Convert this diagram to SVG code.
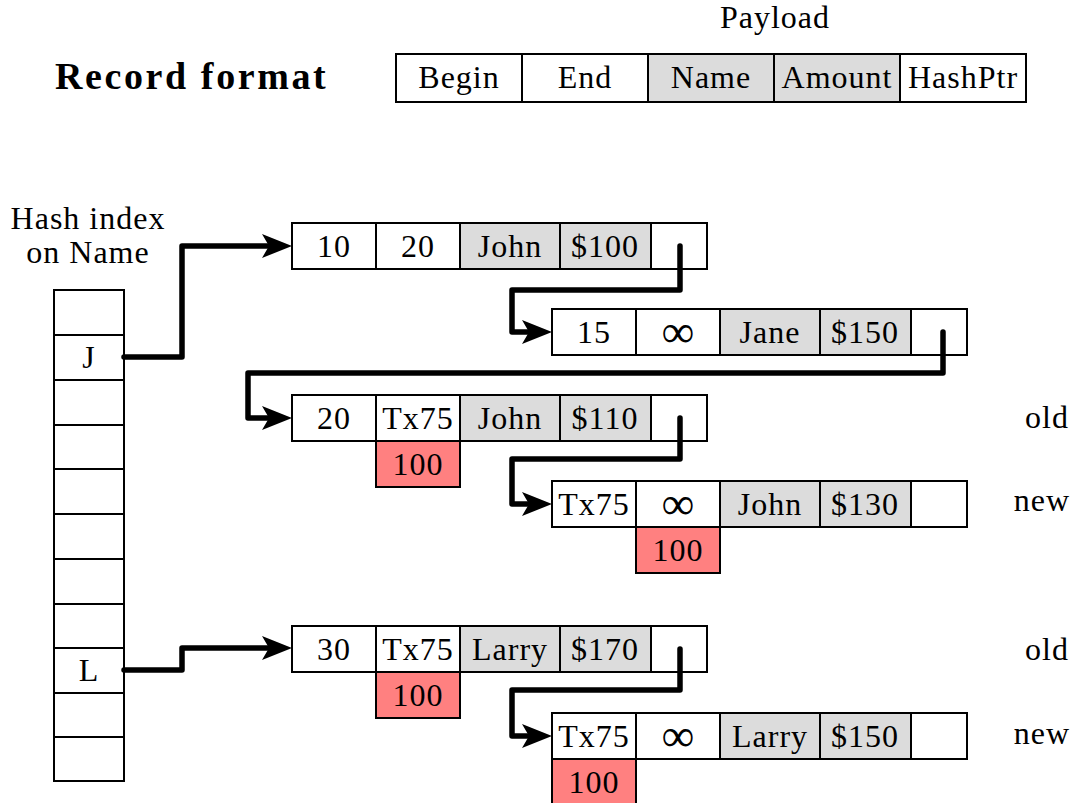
<svg xmlns="http://www.w3.org/2000/svg" width="1075" height="803" viewBox="0 0 1075 803">
<style>
text{font-family:'Liberation Serif','DejaVu Serif',serif;font-size:32px;letter-spacing:1px;fill:#000;text-anchor:middle}
.c{fill:#fff;stroke:#000;stroke-width:2}
.g{fill:#dcdcdc;stroke:#000;stroke-width:2}
.r{fill:#ff8080;stroke:#000;stroke-width:2}
.t{font-weight:bold;font-size:38px;letter-spacing:2.6px;text-anchor:start}
.e{text-anchor:end}
.i{font-size:46px;letter-spacing:0}
.w{fill:none;stroke:#000;stroke-width:5.5;stroke-linejoin:round;stroke-linecap:round;marker-end:url(#ah)}
</style>
<defs>
<marker id="ah" markerUnits="userSpaceOnUse" markerWidth="34" markerHeight="28" viewBox="0 -14 34 28" refX="14" refY="0" orient="auto">
<path d="M0,-12 L30,0 L0,12 L7,0 Z" fill="#000"/>
</marker>
</defs>
<rect width="1075" height="803" fill="#fff"/>

<g id="title"><text class="t" x="55" y="89">Record format</text></g>
<g id="format">
<text x="775" y="28">Payload</text>
<rect class="c" x="396" y="54" width="126" height="48"/>
<rect class="c" x="522" y="54" width="126" height="48"/>
<rect class="g" x="648" y="54" width="126" height="48"/>
<rect class="g" x="774" y="54" width="126" height="48"/>
<rect class="c" x="900" y="54" width="126" height="48"/>
<text x="459" y="88">Begin</text><text x="585" y="88">End</text><text x="711" y="88">Name</text><text x="837" y="88">Amount</text><text x="963" y="88">HashPtr</text>
</g>

<g id="hash-index">
<text x="88" y="229">Hash index</text>
<text x="88" y="263">on Name</text>
<rect class="c" x="54" y="290" width="70" height="491"/>
<path d="M54,335H124M54,380H124M54,425H124M54,469H124M54,514H124M54,559H124M54,604H124M54,648H124M54,693H124M54,737H124" stroke="#000" stroke-width="2"/>
<text x="89" y="368">J</text>
<text x="89" y="681">L</text>
</g>

<g id="rec1">
<rect class="c" x="292" y="223" width="84" height="46"/><rect class="c" x="376" y="223" width="84" height="46"/><rect class="g" x="460" y="223" width="100" height="46"/><rect class="g" x="560" y="223" width="91" height="46"/><rect class="c" x="651" y="223" width="56" height="46"/>
<text x="334" y="257">10</text><text x="418" y="257">20</text><text x="510" y="257">John</text><text x="605" y="257">$100</text>
</g>
<g id="rec2">
<rect class="c" x="552" y="309" width="84" height="46"/><rect class="c" x="636" y="309" width="84" height="46"/><rect class="g" x="720" y="309" width="100" height="46"/><rect class="g" x="820" y="309" width="91" height="46"/><rect class="c" x="911" y="309" width="56" height="46"/>
<text x="594" y="343">15</text><text class="i" x="678" y="347">∞</text><text x="770" y="343">Jane</text><text x="865" y="343">$150</text>
</g>
<g id="rec3">
<rect class="c" x="292" y="395" width="84" height="46"/><rect class="c" x="376" y="395" width="84" height="46"/><rect class="g" x="460" y="395" width="100" height="46"/><rect class="g" x="560" y="395" width="91" height="46"/><rect class="c" x="651" y="395" width="56" height="46"/>
<rect class="r" x="376" y="441" width="84" height="46"/>
<text x="334" y="429">20</text><text x="418" y="429">Tx75</text><text x="510" y="429">John</text><text x="605" y="429">$110</text><text x="418" y="475">100</text>
<text class="e" x="1069" y="428">old</text>
</g>
<g id="rec4">
<rect class="c" x="552" y="481" width="84" height="46"/><rect class="c" x="636" y="481" width="84" height="46"/><rect class="g" x="720" y="481" width="100" height="46"/><rect class="g" x="820" y="481" width="91" height="46"/><rect class="c" x="911" y="481" width="56" height="46"/>
<rect class="r" x="636" y="527" width="84" height="46"/>
<text x="594" y="515">Tx75</text><text class="i" x="678" y="519">∞</text><text x="770" y="515">John</text><text x="865" y="515">$130</text><text x="678" y="561">100</text>
<text class="e" x="1070" y="511">new</text>
</g>
<g id="rec5">
<rect class="c" x="292" y="626" width="84" height="46"/><rect class="c" x="376" y="626" width="84" height="46"/><rect class="g" x="460" y="626" width="100" height="46"/><rect class="g" x="560" y="626" width="91" height="46"/><rect class="c" x="651" y="626" width="56" height="46"/>
<rect class="r" x="376" y="672" width="84" height="46"/>
<text x="334" y="660">30</text><text x="418" y="660">Tx75</text><text x="510" y="660">Larry</text><text x="605" y="660">$170</text><text x="418" y="706">100</text>
<text class="e" x="1069" y="660">old</text>
</g>
<g id="rec6">
<rect class="c" x="552" y="713" width="84" height="46"/><rect class="c" x="636" y="713" width="84" height="46"/><rect class="g" x="720" y="713" width="100" height="46"/><rect class="g" x="820" y="713" width="91" height="46"/><rect class="c" x="911" y="713" width="56" height="46"/>
<rect class="r" x="552" y="759" width="84" height="46"/>
<text x="594" y="747">Tx75</text><text class="i" x="678" y="751">∞</text><text x="770" y="747">Larry</text><text x="865" y="747">$150</text><text x="594" y="793">100</text>
<text class="e" x="1070" y="744">new</text>
</g>

<g id="connectors">
<path class="w" d="M124,357 H182 V246 H276"/>
<path class="w" d="M124,670 H182 V648 H276"/>
<path class="w" d="M680,246 V290 H512 V332 H536"/>
<path class="w" d="M943,332 V373 H248 V418 H276"/>
<path class="w" d="M680,418 V459 H512 V504 H536"/>
<path class="w" d="M680,649 V690 H512 V736 H536"/>
</g>
</svg>
